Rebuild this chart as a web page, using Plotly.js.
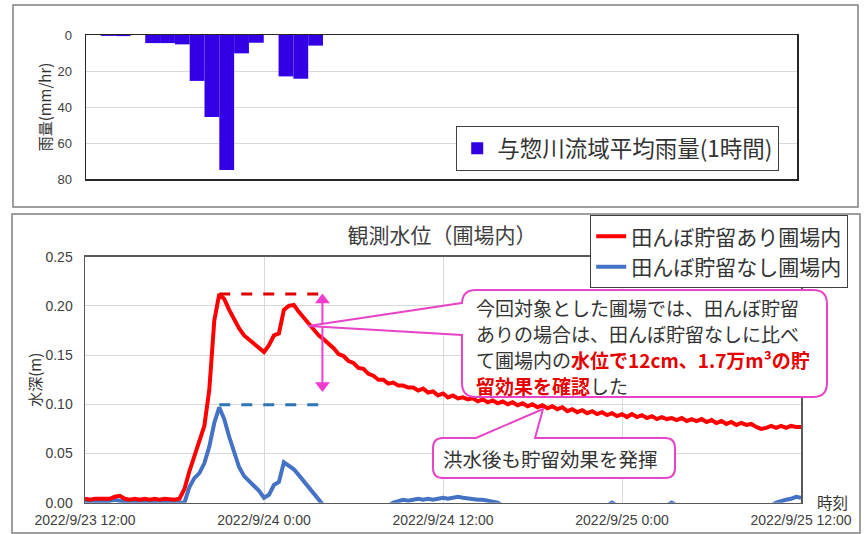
<!DOCTYPE html>
<html>
<head>
<meta charset="utf-8">
<script src="https://cdn.plot.ly/plotly-3.0.1.min.js"></script>
<style>html,body{margin:0;padding:0;background:#fff;}#chart{width:865px;height:534px;}</style>
</head>
<body>
<div id="chart"></div>
<script>
// ---------------- DATA ----------------
// Rainfall (hourly bars, centre of each hour)
const rainTimes = ['2022-09-23 13:30','2022-09-23 14:30','2022-09-23 15:30','2022-09-23 16:30','2022-09-23 17:30',
  '2022-09-23 18:30','2022-09-23 19:30','2022-09-23 20:30','2022-09-23 21:30','2022-09-23 22:30',
  '2022-09-23 23:30','2022-09-24 00:30','2022-09-24 01:30','2022-09-24 02:30','2022-09-24 03:30'];
const rainValues = [0.5, 0.6, 0, 4.5, 4.5, 5.2, 25.5, 45.5, 75, 10.2, 4.3, 0, 23, 24.3, 5.9];
const rainName = '与惣川流域平均雨量(1時間)';

// Water depth, 20-minute samples from 2022-09-23 12:00 to 2022-09-25 12:00
const stepMinutes = 20;
const redName = '田んぼ貯留あり圃場内';
const blueName = '田んぼ貯留なし圃場内';
const redDepth = [
 0.004,0.003,0.004, 0.004,0.005,0.004, 0.006,0.007,0.004, 0.003,0.004,0.003,
 0.004,0.003,0.004, 0.003,0.004,0.003, 0.003,0.004,0.014, 0.032,0.047,0.060,
 0.078,0.115,0.185, 0.212,0.207,0.196, 0.186,0.177,0.170, 0.166,0.162,0.158,
 0.153,0.160,0.170, 0.172,0.196,0.200, 0.201,0.194,0.188, 0.181,0.175,0.170,
 0.166,0.162,0.157, 0.151,0.149,0.144, 0.142,0.137,0.136, 0.131,0.129,0.125,
 0.125,0.121,0.122, 0.119,0.119,0.117, 0.117,0.114,0.116, 0.112,0.113,0.109,
 0.111,0.107,0.109, 0.106,0.107,0.105, 0.106,0.103,0.105, 0.102,0.104,0.101,
 0.103,0.100,0.102, 0.099,0.101,0.098, 0.100,0.097,0.099, 0.096,0.098,0.095,
 0.097,0.093,0.095, 0.092,0.094,0.091, 0.093,0.090,0.092, 0.089,0.091,0.088,
 0.090,0.087,0.090, 0.087,0.089,0.086, 0.088,0.085,0.087, 0.085,0.086,0.084,
 0.086,0.083,0.085, 0.083,0.085,0.082, 0.084,0.081,0.083, 0.080,0.082,0.079,
 0.081,0.079,0.080, 0.077,0.075,0.076, 0.078,0.076,0.078, 0.076,0.078,0.077,
 0.077];
const blueDepth = [
 0.002,0.001,0.001, 0.002,0.001,0.002, 0.003,0.002,0.001, 0.001,0.001,0.001,
 0.001,0.001,0.001, 0.001,0.001,0.001, 0.000,0.000,0.000, 0.016,0.025,0.030,
 0.040,0.057,0.081, 0.097,0.085,0.067, 0.051,0.036,0.027, 0.022,0.017,0.012,
 0.005,0.008,0.018, 0.021,0.041,0.038, 0.034,0.028,0.022, 0.016,0.010,0.004,
 -0.003,-0.003,-0.003, -0.003,-0.003,-0.003, -0.003,-0.003,-0.003, -0.003,-0.003,-0.003,
 -0.003,-0.003,0.000, 0.002,0.003,0.002, 0.003,0.004,0.003, 0.004,0.003,0.004,
 0.005,0.004,0.005, 0.006,0.005,0.004, 0.004,0.003,0.003, 0.002,0.002,0.000,
 -0.003,-0.003,-0.003, -0.003,-0.003,-0.003, -0.003,-0.003,-0.003, -0.003,-0.003,-0.003,
 -0.003,-0.003,-0.003, -0.003,-0.003,-0.003, -0.003,-0.003,-0.003, -0.003,0.000,-0.003,
 -0.003,-0.003,-0.003, -0.003,-0.003,-0.003, -0.003,-0.003,-0.003, -0.003,0.000,-0.003,
 -0.003,-0.003,-0.003, -0.003,-0.003,-0.003, -0.003,-0.003,-0.003, -0.003,-0.003,-0.003,
 -0.003,-0.003,-0.003, -0.003,-0.003,-0.003, -0.003,0.000,0.002, 0.003,0.004,0.006,
 0.005];

const xTickVals = ['2022-09-23 12:00','2022-09-24 00:00','2022-09-24 12:00','2022-09-25 00:00','2022-09-25 12:00'];
const xTickText = ['2022/9/23 12:00','2022/9/24 0:00','2022/9/24 12:00','2022/9/25 0:00','2022/9/25 12:00'];
const markEnd = '2022-09-24 04:00';      // right end of the dashed peak markers
const arrowTime = '2022-09-24 03:55';    // position of the double arrow
const arrowLow = 0.113;                  // lower tip of the double arrow
const arrowInset = 0.006;                // half height of an arrow head (data units)

// ---------------- helpers ----------------
const W = 865, H = 534;
const px = x => x / W;
const py = y => 1 - y / H;
function pad(n){return (n<10?'0':'')+n;}
function fmt(ms){const d=new Date(ms);return d.getUTCFullYear()+'-'+pad(d.getUTCMonth()+1)+'-'+pad(d.getUTCDate())+' '+pad(d.getUTCHours())+':'+pad(d.getUTCMinutes());}
const t0 = Date.UTC(2022,8,23,12,0);
const times = redDepth.map((_, i) => fmt(t0 + i*stepMinutes*60000));

const redMax = Math.max(...redDepth), blueMax = Math.max(...blueDepth);
const redPeakT = times[redDepth.indexOf(redMax)];
const bluePeakT = times[blueDepth.indexOf(blueMax)];

const CJK = '"Noto Sans CJK JP", "Noto Sans", sans-serif';
const LAT = '"Liberation Sans", Arial, sans-serif';
const txt = '#333333';
const pink = '#E645C8';

// ---------------- traces ----------------
const traces = [
  {type:'bar', x:rainTimes, y:rainValues, width:3600000, name:rainName,
   marker:{color:'#3300E6', line:{width:0}}, xaxis:'x2', yaxis:'y2', legend:'legend'},
  {type:'scatter', mode:'lines', x:times, y:blueDepth, name:blueName,
   line:{color:'#4472C4', width:4}, xaxis:'x', yaxis:'y', legend:'legend2'},
  {type:'scatter', mode:'lines', x:times, y:redDepth, name:redName,
   line:{color:'#FF0000', width:4}, xaxis:'x', yaxis:'y', legend:'legend2'},
  {type:'scatter', mode:'lines', x:[redPeakT, markEnd], y:[redMax, redMax], showlegend:false,
   line:{color:'#E00000', width:3, dash:'11px,11px'}, xaxis:'x', yaxis:'y'},
  {type:'scatter', mode:'lines', x:[bluePeakT, markEnd], y:[0.0995, 0.0995], showlegend:false,
   line:{color:'#2E75B6', width:3, dash:'11px,11px'}, xaxis:'x', yaxis:'y'},
  {type:'scatter', mode:'lines+markers', x:[arrowTime, arrowTime],
   y:[arrowLow + arrowInset, redMax - arrowInset], showlegend:false,
   line:{color:'#F03CD0', width:2},
   marker:{symbol:['triangle-down','triangle-up'], size:13, color:'#F03CD0', line:{width:0}},
   xaxis:'x', yaxis:'y'}
];

// ---------------- shapes ----------------
function P(x,y){return px(x).toFixed(5)+','+py(y).toFixed(5);}
function callout1(){
  const L=462,R=827,T=290,B=397,r=14;
  return 'M'+P(L+r,T)+' L'+P(R-r,T)+' Q'+P(R,T)+' '+P(R,T+r)+' L'+P(R,B-r)+' Q'+P(R,B)+' '+P(R-r,B)+
    ' L'+P(L+r,B)+' Q'+P(L,B)+' '+P(L,B-r)+' L'+P(L,335)+' L'+P(308,326)+' L'+P(L,303)+
    ' L'+P(L,T+r)+' Q'+P(L,T)+' '+P(L+r,T)+' Z';
}
function callout2(){
  const L=433,R=675,T=438,B=478,r=10;
  return 'M'+P(L+r,T)+' L'+P(476,T)+' L'+P(543,409)+' L'+P(535,T)+' L'+P(R-r,T)+' Q'+P(R,T)+' '+P(R,T+r)+
    ' L'+P(R,B-r)+' Q'+P(R,B)+' '+P(R-r,B)+' L'+P(L+r,B)+' Q'+P(L,B)+' '+P(L,B-r)+
    ' L'+P(L,T+r)+' Q'+P(L,T)+' '+P(L+r,T)+' Z';
}
const shapes = [
  {type:'rect', xref:'paper', yref:'paper', x0:px(13), x1:px(858), y0:py(207), y1:py(5),
   line:{color:'#808080', width:1.5}, fillcolor:'rgba(0,0,0,0)', layer:'below'},
  {type:'rect', xref:'paper', yref:'paper', x0:px(12), x1:px(860), y0:py(533), y1:py(214),
   line:{color:'#808080', width:1.5}, fillcolor:'rgba(0,0,0,0)', layer:'below'},
  {type:'path', xref:'paper', yref:'paper', path:callout1(), line:{color:pink, width:2}, fillcolor:'#FFFFFF', layer:'above'},
  {type:'path', xref:'paper', yref:'paper', path:callout2(), line:{color:pink, width:2}, fillcolor:'#FFFFFF', layer:'above'}
];

// callout text pieces (one annotation per line / colour run)
const fs = 19;
function note(x, y, text, color, bold){
  return {xref:'paper', yref:'paper', x:px(x), y:py(y), xanchor:'left', yanchor:'middle', align:'left',
          showarrow:false, borderpad:0, height:24,
          font:{family:CJK, size:fs, color:color, weight: bold ? 700 : 400}, text:text};
}
const L0 = 475, redC = '#E60000';
const annotations = [
  note(L0, 306.5, '今回対象とした圃場では、田んぼ貯留', txt, false),
  note(L0, 332.5, 'ありの場合は、田んぼ貯留なしに比べ', txt, false),
  note(L0, 358.5, 'て圃場内の', txt, false),
  note(L0 + 5*fs, 358.5, '水位で12cm、1.7万m³の貯', redC, true),
  note(L0, 384.5, '留効果を確認', redC, true),
  note(L0 + 6*fs, 384.5, 'した', txt, false),
  {xref:'paper', yref:'paper', x:px(441), y:py(458), xanchor:'left', yanchor:'middle', align:'left', showarrow:false,
   font:{family:CJK, size:19.5, color:txt}, text:'洪水後も貯留効果を発揮'},
  {xref:'paper', yref:'paper', x:px(832), y:py(502), xanchor:'center', yanchor:'middle', showarrow:false,
   font:{family:CJK, size:15.5, color:txt}, text:'時刻'}
];

// ---------------- layout ----------------
const layout = {
  width:W, height:H, margin:{l:0,r:0,t:0,b:0},
  paper_bgcolor:'#FFFFFF', plot_bgcolor:'#FFFFFF',
  font:{family:CJK, color:txt},
  showlegend:true, hovermode:false,
  title:{text:'観測水位（圃場内）', font:{family:CJK, size:21, color:'#404040'},
         xref:'paper', yref:'paper', x:px(442), xanchor:'center', y:py(236), yanchor:'middle'},
  xaxis:{domain:[px(85), px(801)], anchor:'y', type:'date',
         range:['2022-09-23 12:00','2022-09-25 12:00'],
         tickmode:'array', tickvals:xTickVals, ticktext:xTickText,
         tickfont:{family:LAT, size:14, color:'#404040'}, ticks:'', ticklabelstandoff:4,
         showgrid:true, gridcolor:'#D9D9D9', gridwidth:1,
         showline:true, mirror:true, linecolor:'#595959', linewidth:1.5, zeroline:false},
  yaxis:{domain:[py(502.7), py(256.7)], anchor:'x', range:[0,0.25], dtick:0.05, tickformat:'.2f',
         tickfont:{family:LAT, size:14, color:'#404040'}, ticks:'', ticklabelstandoff:8,
         showgrid:true, gridcolor:'#D9D9D9', gridwidth:1,
         showline:true, mirror:true, linecolor:'#595959', linewidth:1.5, zeroline:false,
         title:{text:'水深(m)', font:{family:CJK, size:15, color:txt}, standoff:0}},
  xaxis2:{domain:[px(86), px(797)], anchor:'y2', type:'date',
          range:['2022-09-23 12:00','2022-09-25 12:00'],
          showticklabels:false, ticks:'', showgrid:false,
          showline:true, mirror:true, linecolor:'#262626', linewidth:1.5, zeroline:false},
  yaxis2:{domain:[py(179), py(35)], anchor:'x2', range:[80,0], dtick:20,
          tickfont:{family:LAT, size:13, color:'#404040'}, ticks:'', ticklabelstandoff:10,
          showgrid:true, gridcolor:'#D9D9D9', gridwidth:1,
          showline:true, mirror:true, linecolor:'#262626', linewidth:1.5, zeroline:false,
          title:{text:'雨量(mm/hr)', font:{family:CJK, size:15, color:txt}, standoff:2}},
  legend:{x:px(456), y:py(126), xanchor:'left', yanchor:'top', bgcolor:'#FFFFFF',
          bordercolor:'#404040', borderwidth:1.2, font:{family:CJK, size:22.5, color:txt}},
  legend2:{x:px(590), y:py(215), xanchor:'left', yanchor:'top', bgcolor:'#FFFFFF', traceorder:'reversed',
          bordercolor:'#404040', borderwidth:1.2, font:{family:CJK, size:21, color:txt}},
  shapes:shapes, annotations:annotations
};

Plotly.newPlot('chart', traces, layout, {staticPlot:true, displayModeBar:false});
</script>
</body>
</html>
